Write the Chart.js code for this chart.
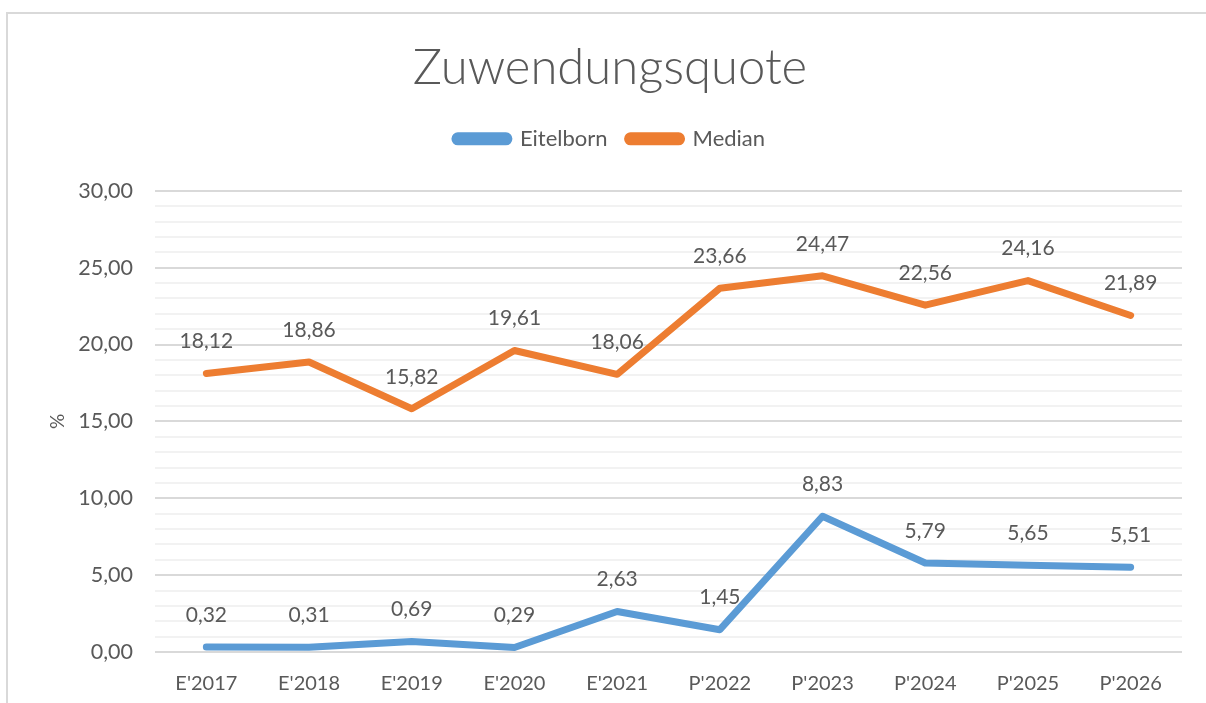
<!DOCTYPE html>
<html>
<head>
  <meta charset="utf-8">
  <script src="https://cdn.jsdelivr.net/npm/chart.js@4"></script>
  <style>
    html, body { margin: 0; padding: 0; background: #fff; overflow: hidden; }
    .frame {
      position: absolute; left: 6px; top: 12px; width: 1300px; height: 800px;
      border-top: 2px solid #d9d9d9; border-left: 2px solid #d9d9d9;
    }
    .wrap { position: absolute; left: 0; top: 0; width: 1206px; height: 703px; }
  </style>
  <script>
    // values
    var years = ["E'2017", "E'2018", "E'2019", "E'2020", "E'2021", "P'2022", "P'2023", "P'2024", "P'2025", "P'2026"];
    var eitelborn = [0.32, 0.31, 0.69, 0.29, 2.63, 1.45, 8.83, 5.79, 5.65, 5.51];
    var median = [18.12, 18.86, 15.82, 19.61, 18.06, 23.66, 24.47, 22.56, 24.16, 21.89];
  </script>
</head>
<body>
<div class="frame"></div>
<div class="wrap"><canvas id="myChart" width="1206" height="703"></canvas></div>
<script>
  var grey = '#595959';
  var fmt = function (v) { return v.toFixed(2).replace('.', ','); };

  // simple value labels above each point
  var pointLabels = {
    id: 'pointLabels',
    afterDatasetsDraw: function (chart) {
      var ctx = chart.ctx;
      ctx.save();
      ctx.font = '21px Lato';
      ctx.fillStyle = grey;
      ctx.textAlign = 'center';
      ctx.textBaseline = 'middle';
      chart.data.datasets.forEach(function (ds, i) {
        chart.getDatasetMeta(i).data.forEach(function (pt, j) {
          ctx.fillText(fmt(ds.data[j]), pt.x, pt.y - 32);
        });
      });
      ctx.restore();
    }
  };

  var ctx = document.getElementById('myChart').getContext('2d');
  var chart = new Chart(ctx, {
    type: 'line',
    data: {
      labels: years,
      datasets: [{
        label: 'Eitelborn',
        data: eitelborn,
        borderColor: '#5b9bd5',
        backgroundColor: '#5b9bd5',
        borderWidth: 7,
        borderCapStyle: 'round',
        borderJoinStyle: 'round',
        pointRadius: 0,
        tension: 0,
        fill: false
      }, {
        label: 'Median',
        data: median,
        borderColor: '#ed7d31',
        backgroundColor: '#ed7d31',
        borderWidth: 7,
        borderCapStyle: 'round',
        borderJoinStyle: 'round',
        pointRadius: 0,
        tension: 0,
        fill: false
      }]
    },
    options: {
      responsive: false,
      animation: false,
      layout: { padding: { left: 38, right: 24, top: 14, bottom: 0 } },
      plugins: {
        title: {
          display: true,
          text: 'Zuwendungsquote',
          color: grey,
          font: { family: 'Lato', size: 49, weight: '300' },
          padding: { top: 25, bottom: 10 }
        },
        // empty subtitle used as a spacer between legend and plot
        subtitle: {
          display: true,
          text: '',
          weight: 500,
          font: { size: 10 },
          padding: { top: 0, bottom: 19 }
        },
        legend: {
          display: true,
          labels: {
            color: grey,
            font: { family: 'Lato', size: 22 },
            boxWidth: 54,
            boxHeight: 6,
            useBorderRadius: true,
            borderRadius: 3,
            padding: 20
          }
        },
        tooltip: { enabled: false }
      },
      scales: {
        x: {
          offset: true,
          grid: { display: false, drawTicks: false },
          border: { display: false },
          ticks: { color: grey, font: { family: 'Lato', size: 20 }, padding: 20, maxRotation: 0 },
          afterFit: function (s) { s.height = 51; }
        },
        y: {
          min: 0,
          max: 30,
          border: { display: false },
          grid: {
            drawTicks: false,
            lineWidth: 2,
            color: function (c) { return c.tick.value % 5 === 0 ? '#d9d9d9' : '#f2f2f2'; }
          },
          ticks: {
            stepSize: 1,
            autoSkip: false,
            color: grey,
            font: { family: 'Lato', size: 21.5 },
            padding: 22,
            callback: function (v) { return v % 5 === 0 ? fmt(v) : ''; }
          },
          title: {
            display: true,
            text: '%',
            color: grey,
            font: { family: 'Lato', size: 19 },
            padding: { top: 8, bottom: 0 }
          },
          afterFit: function (s) { s.width = 117; }
        }
      }
    },
    plugins: [pointLabels]
  });
</script>
</body>
</html>
